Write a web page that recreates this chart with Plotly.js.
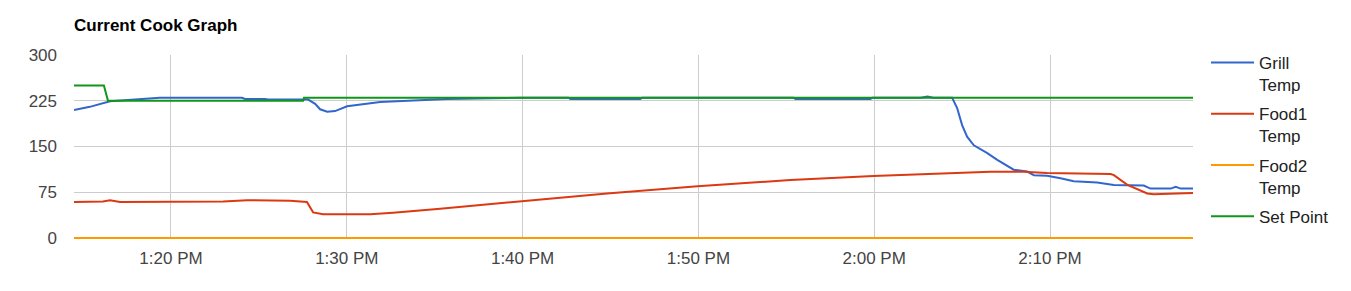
<!DOCTYPE html>
<html>
<head>
<meta charset="utf-8">
<script src="https://cdn.plot.ly/plotly-3.0.1.min.js"></script>
<style>html,body{margin:0;padding:0;background:#fff;}#chart{width:1351px;height:291px;}</style>
</head>
<body>
<div id="chart"></div>
<script>
const DAY = '2024-01-01 ';
const grillTimes = ['13:14:29','13:15:23','13:16:32','13:17:23','13:18:14','13:19:22','13:24:02','13:24:13','13:25:21','13:25:31','13:27:48','13:28:12','13:28:29','13:28:53','13:29:20','13:30:01','13:31:54','13:34:34','13:35:43','13:38:20','13:39:52','13:42:36','13:42:43','13:46:42','13:46:48','13:55:24','13:55:31','13:59:47','13:59:54','14:02:38','14:03:02','14:03:22','14:04:26','14:04:43','14:05:00','14:05:17','14:05:40','14:06:26','14:07:00','14:07:56','14:08:42','14:09:05','14:09:50','14:10:36','14:11:21','14:12:41','14:13:38','14:15:20','14:15:43','14:16:52','14:17:09','14:17:26','14:18:10'];
const grillTemp = [210,215,224,226,228,230,230,228,228,227,227,220,211,207,208,216,223,226,228,229,230,230,228,228,230,230,228,228,230,230,232,230,230,213,185,166,152,139,128,112,109,103,102,98,93,91,87,86,81,81,84,81,81];

const food1Times = ['13:14:29','13:16:08','13:16:32','13:17:06','13:22:58','13:24:20','13:26:46','13:27:38','13:27:44','13:28:05','13:28:39','13:31:20','13:32:38','13:35:19','13:36:27','13:40:01','13:44:48','13:49:57','13:55:14','13:59:57','14:01:30','14:04:54','14:06:37','14:08:30','14:09:50','14:13:27','14:13:38','14:14:24','14:15:32','14:15:54','14:18:10'];
const food1Temp = [59,60,62,59,60,62,61,60,59,42,39,39,41.5,48,51,60.6,73,85,95,101.6,103.3,107.6,108.7,108.7,106.5,105,103,87,73,71.6,74];

const food2Times = ['13:14:29','14:18:10'];
const food2Temp = [0,0];

const setTimes = ['13:14:29','13:16:11','13:16:25','13:27:31','13:27:34','14:18:10'];
const setPoint = [250,250,225,225,230,230];

const seriesNames = ['Grill<br>Temp','Food1<br>Temp','Food2<br>Temp','Set Point'];
const seriesColors = ['#3366cc','#dc3912','#ff9900','#109618'];
const yTicks = [0,75,150,225,300];

const times = [grillTimes, food1Times, food2Times, setTimes];
const vals = [grillTemp, food1Temp, food2Temp, setPoint];

const traces = vals.map((v,i)=>({
  type:'scatter', mode:'lines',
  x: times[i].map(t=>DAY+t), y: v,
  name: seriesNames[i],
  legendgroup: 'g'+i,
  line:{color:seriesColors[i], width:2}
}));

const FONT = 'Liberation Sans, Arial, sans-serif';
const PL = 74, PR = 1193, PT = 55, PB = 238;
const layout = {
  width:1351, height:291,
  margin:{l:PL, r:1351-PR, t:PT, b:291-PB-1},
  paper_bgcolor:'#fff', plot_bgcolor:'#fff',
  font:{family:FONT, size:17, color:'#222'},
  title:{text:'<b>Current Cook Graph</b>', x:74/1351, xanchor:'left', y:1-25/291, yanchor:'middle', font:{family:FONT, size:17, color:'#000'}},
  xaxis:{
    type:'date',
    range:[DAY+'13:14:29', DAY+'14:18:08'],
    tick0: DAY+'13:20:00', dtick:600000,
    tickformat:'%-I:%M %p',
    showgrid:true, gridcolor:'#cccccc', gridwidth:1,
    zeroline:false, showline:false, ticks:'',
    ticklabelstandoff:7,
    tickfont:{family:FONT, size:17, color:'#444'}
  },
  yaxis:{
    range:[-300/183, 300], tickvals:yTicks, ticktext:yTicks.map(String),
    showgrid:true, gridcolor:'#cccccc', gridwidth:1,
    zeroline:false,
    showline:false, ticks:'',
    ticklabelstandoff:16,
    tickfont:{family:FONT, size:17, color:'#444'}
  },
  showlegend:true,
  legend:{x:(1206-PL)/(PR-PL), xanchor:'left', y:1+(PT-45)/(PB+1-PT), yanchor:'top', valign:'top',
    itemwidth:43, tracegroupgap:4, maxheight:280,
    font:{family:FONT, size:17, color:'#222'}, bgcolor:'rgba(0,0,0,0)'},
  hovermode:false
};
Plotly.newPlot('chart', traces, layout, {staticPlot:true, displayModeBar:false});
</script>
</body>
</html>
